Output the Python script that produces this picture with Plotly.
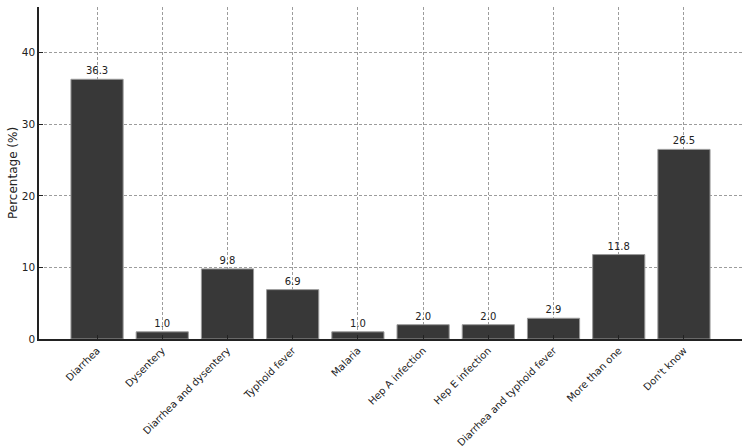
import plotly.graph_objects as go

categories = ["Diarrhea", "Dysentery", "Diarrhea and dysentery", "Typhoid fever", "Malaria",
              "Hep A infection", "Hep E infection", "Diarrhea and typhoid fever", "More than one", "Don't know"]
values = [36.3, 1.0, 9.8, 6.9, 1.0, 2.0, 2.0, 2.9, 11.8, 26.5]
labels = [f"{v:.1f}" for v in values]

fig = go.Figure()
fig.add_trace(go.Bar(
    x=list(range(len(categories))), y=values,
    width=0.8,
    marker=dict(color="#383838", line=dict(color="#9a9a9a", width=1)),
    text=labels, textposition="outside",
    textfont=dict(family="DejaVu Sans", size=10, color="#222"),
    cliponaxis=False,
))

fig.update_layout(
    width=750, height=447,
    margin=dict(l=39, r=8, t=7, b=108),
    paper_bgcolor="white", plot_bgcolor="white",
    showlegend=False,
    font=dict(family="DejaVu Sans", size=10, color="#222"),
    xaxis=dict(
        range=[-0.89, 9.89],
        tickmode="array", tickvals=list(range(len(categories))), ticktext=categories,
        tickangle=-45, automargin=False,
        showgrid=True, gridcolor="#9c9c9c", griddash="3px,2px", gridwidth=0.8,
        showline=True, linecolor="#222", linewidth=1.5,
        ticks="inside", ticklen=4, tickcolor="#222",
        zeroline=False, layer="above traces",
        tickfont=dict(size=10),
    ),
    yaxis=dict(
        range=[0, 46.4], automargin=False,
        tickvals=[0, 10, 20, 30, 40],
        showgrid=True, gridcolor="#9c9c9c", griddash="3px,2px", gridwidth=0.8,
        showline=True, linecolor="#222", linewidth=1.5,
        ticks="inside", ticklen=4, tickcolor="#222",
        zeroline=False, layer="above traces",
        tickfont=dict(size=10.5),
    ),
    annotations=[dict(
        text="Percentage (%)", textangle=-90,
        xref="paper", yref="paper", x=-0.037, y=0.5,
        xanchor="center", yanchor="middle", showarrow=False,
        font=dict(family="DejaVu Sans", size=12, color="#222"),
    )],
)

fig.write_html("out.html")
